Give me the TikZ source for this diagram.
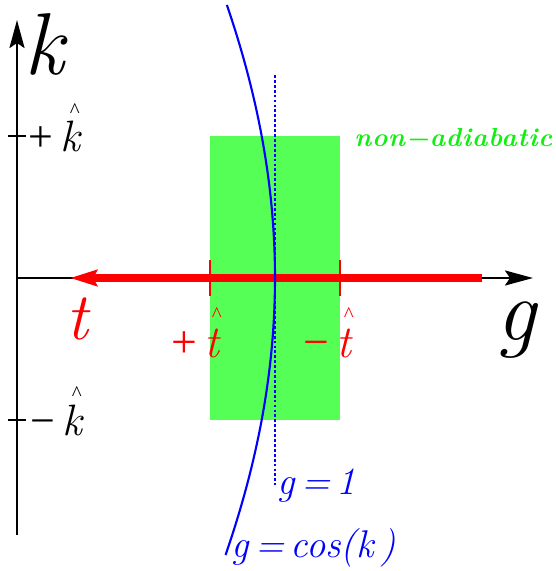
\documentclass[tikz,border=0pt]{standalone}
\usepackage{fontspec}
\setmainfont{Liberation Serif}
\newfontfamily\diagfont{Liberation Serif}
\newfontfamily\diagit{Latin Modern Roman}
\newfontfamily\spacedfont{Latin Modern Roman}[LetterSpace=3]
\usetikzlibrary{arrows.meta,positioning}
\definecolor{boxGreen}{HTML}{55FF55}
\definecolor{textGreen}{HTML}{11EE11}
\definecolor{lineRed}{HTML}{FF0000}
\definecolor{curveBlue}{HTML}{0000FF}
\newcommand{\hatlet}[1]{\setbox0=\hbox{\diagit\itshape #1}\makebox[0pt][l]{\makebox[\wd0][c]{\hspace{0.2em}\raisebox{0.78em}{\fontsize{12}{12}\selectfont\textasciicircum}}}\box0}

\begin{document}
\begin{tikzpicture}[
            x=0.02cm, y=-0.02cm,
            axis/.style={
                    line width=1.4pt,
                    -{Stealth[length=0.56cm,width=0.3cm,inset=0.1cm]}
                },
            tarrow/.style={
                    draw=lineRed,
                    line width=0.17cm,
                    -{Stealth[length=0.54cm,width=0.32cm,inset=0.08cm]}
                },
            blacktick/.style={line width=1.4pt},
            redtick/.style={draw=lineRed, line width=1.4pt},
            curve/.style={draw=curveBlue, line width=1.2pt},
            gline/.style={draw=curveBlue, line width=1.2pt, dash pattern=on 1.6pt off 1.2pt},
            biglabel/.style={inner sep=0pt, font=\diagit\fontsize{50}{50}\selectfont\itshape},
            tlabel/.style={inner sep=0pt, text=lineRed, font=\diagit\fontsize{38}{38}\selectfont\itshape},
            kticklabel/.style={inner sep=0pt, font=\diagfont\fontsize{25}{25}\selectfont},
            tticklabel/.style={inner sep=0pt, text=lineRed, font=\diagfont\fontsize{26}{26}\selectfont},
            curvelabel/.style={inner sep=0pt, text=curveBlue, font=\diagit\fontsize{22}{22}\selectfont\itshape},
            zonelabel/.style={inner sep=0pt, text=textGreen, font=\spacedfont\fontsize{15}{15}\selectfont\bfseries\itshape}
        ]
        \useasboundingbox (0,0) rectangle (555,571);

        % non-adiabatic zone
        \fill[boxGreen] (210,136) rectangle (340,420);

        % Axes
        \coordinate (origin) at (17,278);
        \coordinate (kbottom) at (17,535);
        \coordinate (ktop) at (17,20);
        \coordinate (gend) at (533,278);
        \draw[axis] (origin) -- (gend);
        \draw[axis] (kbottom) -- (ktop);

        % Ticks on the k axis
        \coordinate (kpa) at (8,136);
        \coordinate (kpb) at (26,136);
        \coordinate (kma) at (8,420);
        \coordinate (kmb) at (26,420);
        \draw[blacktick] (kpa) -- (kpb);
        \draw[blacktick] (kma) -- (kmb);

        % Time arrow
        \coordinate (tstart) at (482,278);
        \coordinate (tend) at (70,278);
        \draw[tarrow] (tstart) -- (tend);

        \coordinate (tpa) at (210,260);
        \coordinate (tpb) at (210,296);
        \coordinate (tma) at (340,260);
        \coordinate (tmb) at (340,296);
        \draw[redtick] (tpa) -- (tpb);
        \draw[redtick] (tma) -- (tmb);

        % Curves
        \draw[curve] plot[domain=5:555, samples=80, smooth] ({17+258*cos(deg((\x-278)/440))}, \x);
        \coordinate (gtop) at (275,75);
        \coordinate (gbottom) at (275,485);
        \draw[gline] (gtop) -- (gbottom);

        % Labels
        \node[biglabel, anchor=base west] (klabel) at (24,74) {k};
        \node[biglabel, anchor=base] (glabel) at (516,340) {g};
        \node[tlabel, anchor=base] (tlabel) at (77,339) {t};
        \node[kticklabel, anchor=base west] (kplus) at (28,152) {+\,\hatlet{k}};
        \node[kticklabel, anchor=base west] (kminus) at (30,435) {−\,\hatlet{k}};
        \node[tticklabel, anchor=base east] (tplus) at (220,357) {+\,\hatlet{t}};
        \node[tticklabel, anchor=base west] (tminus) at (303,357) {−\,\hatlet{t}};
        \node[curvelabel, anchor=base west] (gone) at (277,494) {g\,=\,1};
        \node[curvelabel, anchor=base west] (gcos) at (231,557) {g\,=\,cos(k\,)};
        \node[zonelabel, anchor=base west] (nonad) at (354,147) {\resizebox{3.96cm}{!}{non−adiabatic}};

    \end{tikzpicture}
\end{document}
